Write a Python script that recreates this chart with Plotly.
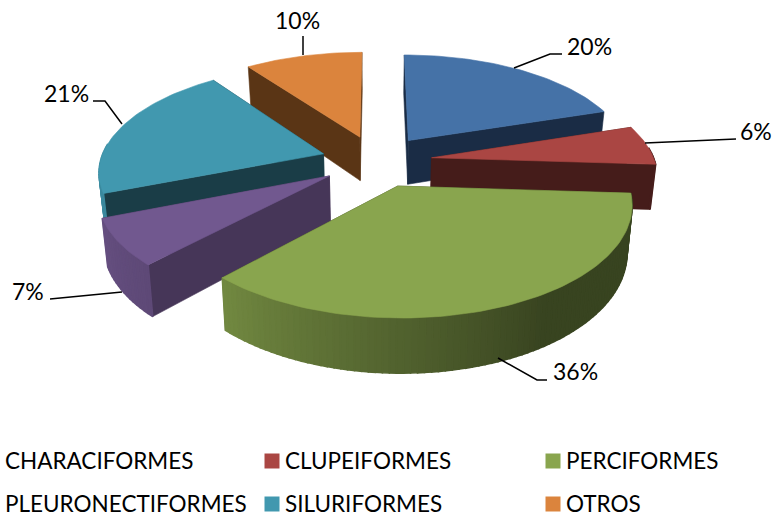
import math
import plotly.graph_objects as go

categories = ["CHARACIFORMES", "CLUPEIFORMES", "PERCIFORMES", "PLEURONECTIFORMES", "SILURIFORMES", "OTROS"]
values = [20, 6, 36, 7, 21, 10]
top_colors = ["#4572A7", "#AA4643", "#89A54E", "#71588F", "#4198AF", "#DB843D"]
cut_colors = ["#1A2C45", "#451C1A", "#37421E", "#463658", "#1A3D47", "#5A3515"]

# projection of the tilted, exploded pie into page pixels
CX, CY, A, B, H, K, EXPLODE = 376.5, 161, 223, 104, 45, 0.149, 0.25
FONT = "Lato"


def project(x, y, z):
    s = 1 / (1 + K * y)
    return CX + A * x * s * (1 - 0.02 * z), CY - B * y * s + H * z * s


def hex_rgb(h):
    return [int(h[i:i + 2], 16) for i in (1, 3, 5)]


def shade(h, f):
    return "rgb(%d,%d,%d)" % tuple(round(c * f) for c in hex_rgb(h))


def wall_factor(t):
    if t <= 147:
        return 0.41
    if t <= 223:
        return 0.41 + (t - 147) / 76 * 0.42
    return min(0.83 + (t - 223) / 27 * 0.07, 0.92)


fig = go.Figure()


def poly(pts, color, width=0.6):
    fig.add_trace(go.Scatter(
        x=[p[0] for p in pts] + [pts[0][0]], y=[p[1] for p in pts] + [pts[0][1]],
        mode="lines", fill="toself", fillcolor=color,
        line=dict(color=color, width=width), hoverinfo="skip", showlegend=False))


total = sum(values)
starts = [sum(values[:i]) / total * 360 for i in range(len(values))]
ends = [sum(values[:i + 1]) / total * 360 for i in range(len(values))]

for i in [5, 0, 4, 1, 3, 2]:
    t0, t1 = starts[i], ends[i]
    mid = math.radians((t0 + t1) / 2)
    ox, oy = EXPLODE * math.sin(mid), EXPLODE * math.cos(mid)

    def pt(t):
        r = math.radians(t)
        return ox + math.sin(r), oy + math.cos(r)

    n = max(2, int((t1 - t0) / 1.5))
    ts = [t0 + (t1 - t0) * j / n for j in range(n + 1)]
    faces = []
    for t in (t0, t1):
        p = pt(t)
        q = [(ox, oy, 0), (p[0], p[1], 0), (p[0], p[1], 1), (ox, oy, 1)]
        faces.append(((oy + p[1]) / 2, q, cut_colors[i], 0.6))
    for a, b in zip(ts, ts[1:]):
        m = (a + b) / 2
        if math.cos(math.radians(m)) > 0.1:
            continue
        pa, pb = pt(a), pt(b)
        q = [(pa[0], pa[1], 0), (pb[0], pb[1], 0), (pb[0], pb[1], 1), (pa[0], pa[1], 1)]
        faces.append(((pa[1] + pb[1]) / 2, q, shade(top_colors[i], wall_factor(m)), 1.6))
    faces.sort(key=lambda f: -f[0])
    for _, q, c, w in faces:
        poly([project(*v) for v in q], c, w)
    top = [project(ox, oy, 0)] + [project(*pt(t), 0) for t in ts]
    poly(top, top_colors[i])

label_pos = [(589, 46), (756, 131), (575, 371), (28, 291), (66, 93), (297, 20)]
leaders = [
    [(514, 68), (550, 54), (562, 54)],
    [(645, 143), (736, 139)],
    [(498, 358), (537, 380), (547, 380)],
    [(50, 299), (122, 292)],
    [(122, 124), (105, 101), (93, 101)],
    [(303, 55), (303, 36)],
]
for v, (lx, ly), pts in zip(values, label_pos, leaders):
    fig.add_annotation(x=lx, y=ly, text=f"{v}%", showarrow=False,
                       font=dict(family=FONT, size=23, color="#000000"))
    fig.add_trace(go.Scatter(x=[p[0] for p in pts], y=[p[1] for p in pts], mode="lines",
                             line=dict(color="#000000", width=1.5), hoverinfo="skip", showlegend=False))

legend_x = [3, 283, 564, 3, 283, 564]
legend_y = [460, 460, 460, 503, 503, 503]
for i, (name, x, y) in enumerate(zip(categories, legend_x, legend_y)):
    fig.add_annotation(x=x, y=y, text=name, showarrow=False, xanchor="left",
                       font=dict(family=FONT, size=22.5, color="#000000"))
    if i % 3:
        fig.add_trace(go.Scatter(x=[x - 11], y=[y + 1], mode="markers",
                                 marker=dict(symbol="square", size=15, color=top_colors[i]),
                                 hoverinfo="skip", showlegend=False))

fig.update_layout(
    width=775, height=517, margin=dict(l=0, r=0, t=0, b=0),
    paper_bgcolor="white", plot_bgcolor="white", showlegend=False,
    xaxis=dict(range=[0, 775], visible=False, fixedrange=True),
    yaxis=dict(range=[517, 0], visible=False, fixedrange=True),
)
fig.write_html("out.html", config={"displayModeBar": False},
               post_script="document.body.style.margin='0';document.body.style.overflow='hidden';")
